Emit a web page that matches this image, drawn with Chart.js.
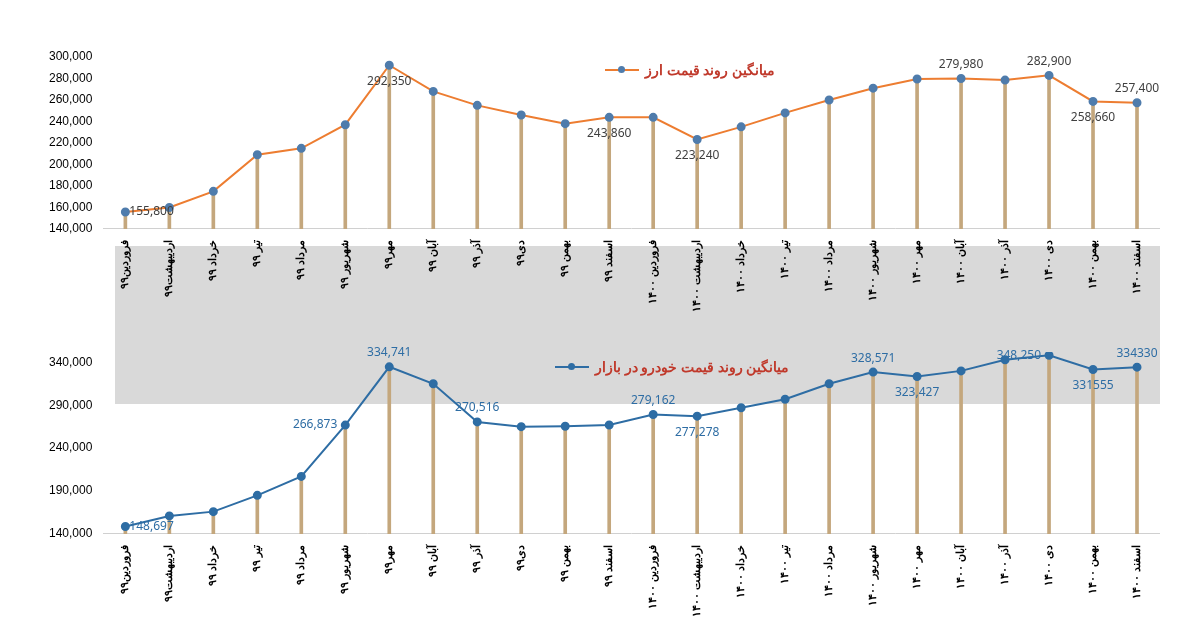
<!DOCTYPE html>
<html><head><meta charset="utf-8">
<script src="https://cdn.jsdelivr.net/npm/chart.js@4.4.0/dist/chart.umd.min.js"></script>
<style>
body{margin:0;background:#fff;font-family:"Noto Sans",sans-serif}
#band{position:absolute;left:115px;top:246px;width:1045px;height:158px;background:#d9d9d9}
.wrap{position:absolute;left:0;width:1197px}
.leg{position:absolute;direction:rtl;font-weight:bold;font-size:14px;color:#c0392b;display:flex;align-items:center;gap:6px}
.leg i{display:inline-block;width:34px;height:2px;position:relative}
.leg i b{position:absolute;left:13px;top:-3px;width:7px;height:7px;border-radius:50%}
</style></head>
<body>
<div id="band"></div>
<div class="wrap" style="top:0;height:320px"><canvas id="top"></canvas></div>
<div class="wrap" style="top:330px;height:304px"><canvas id="bot"></canvas></div>
<div class="leg" style="left:605px;top:60px">میانگین روند قیمت ارز<i style="background:#ed7d31"><b style="background:#4f7cac"></b></i></div>
<div class="leg" style="left:555px;top:357px">میانگین روند قیمت خودرو در بازار<i style="background:#2e6da4"><b style="background:#2e6da4"></b></i></div>
<script>
const months = ['فروردین۹۹','اردیبهشت۹۹','خرداد ۹۹','تیر ۹۹','مرداد ۹۹','شهریور ۹۹','مهر۹۹','آبان ۹۹','آذر ۹۹','دی۹۹','بهمن ۹۹','اسفند ۹۹',
 'فروردین ۱۴۰۰','اردیبهشت ۱۴۰۰','خرداد ۱۴۰۰','تیر ۱۴۰۰','مرداد ۱۴۰۰','شهریور ۱۴۰۰','مهر ۱۴۰۰','آبان ۱۴۰۰','آذر ۱۴۰۰','دی ۱۴۰۰','بهمن ۱۴۰۰','اسفند ۱۴۰۰'];
const arz = [155800,160000,175000,209000,215000,237000,292350,268000,255000,246000,238000,243860,243860,223240,235000,248000,260000,271000,279500,279980,278500,282900,258660,257400];
const khodro = [148697,161000,166000,185000,207000,266873,334741,315000,270516,265000,265500,267000,279162,277278,287000,297000,315000,328571,323427,330000,343000,348250,331555,334330];
const arzTicks = [140000,160000,180000,200000,220000,240000,260000,280000,300000];
const khodroTicks = [140000,190000,240000,290000,340000];
// which points get a value label, and above/below
const arzLabels = {0:'r',6:'b',11:'b',13:'b',19:'a',21:'a',22:'b',23:'a'};
const khodroLabels = {0:'r',5:'l',6:'a',8:'a',12:'a',13:'b',17:'a',18:'b',21:'l',22:'b',23:'a'};
const arzText = {0:'155,800',6:'292,350',11:'243,860',13:'223,240',19:'279,980',21:'282,900',22:'258,660',23:'257,400'};
const khodroText = {0:'148,697',5:'266,873',6:'334,741',8:'270,516',12:'279,162',13:'277,278',17:'328,571',18:'323,427',21:'348,250',22:'331555',23:'334330'};

function valueLabels(map, text, color){
  return {id:'vl', afterDatasetsDraw(c){
    const m = c.getDatasetMeta(1), ctx = c.ctx;
    ctx.save(); ctx.font = '12px "Noto Sans"'; ctx.fillStyle = color; ctx.textBaseline='middle';
    for (const k in map){
      const p = m.data[k]; let x=p.x, y=p.y;
      ctx.textAlign='center';
      if(map[k]=='a') y-=14; else if(map[k]=='b') y+=16;
      else if(map[k]=='r'){ctx.textAlign='left'; x+=4;}
      else {ctx.textAlign='right'; x-=8;}
      ctx.fillText(text[k], x, y);
    }
    ctx.restore();
  }};
}

function make(id, data, color, pcolor, ticks, max, pad, map, text, lcolor){
  new Chart(document.getElementById(id), {
    data:{labels:months, datasets:[
      {type:'bar', data:data, backgroundColor:'#c4a77d', barThickness:3, order:2},
      {type:'line', data:data, borderColor:color, borderWidth:2, pointBackgroundColor:pcolor, pointBorderColor:pcolor, pointRadius:3.5, tension:0, order:1}
    ]},
    options:{responsive:true, maintainAspectRatio:false, animation:false,
      layout:{padding:{left:46,right:38,top:pad[0],bottom:pad[1]}},
      plugins:{legend:{display:false}, tooltip:{enabled:false}},
      scales:{
        x:{grid:{display:false}, border:{color:'#d0d0d0'},
           ticks:{color:'#000', font:{size:11, weight:'bold'}, maxRotation:90, minRotation:90}},
        y:{min:ticks[0], max:max, grid:{display:false}, border:{display:false},
           afterBuildTicks:s=>{s.ticks=ticks.map(v=>({value:v}));},
           ticks:{color:'#000', font:{size:12}, callback:v=>v.toLocaleString('en-US')}}
      }},
    plugins:[valueLabels(map, text, lcolor)]
  });
}
make('top', arz, '#ed7d31', '#4f7cac', arzTicks, 300000, [57,5], arzLabels, arzText, '#404040');
make('bot', khodro, '#2e6da4', '#2e6da4', khodroTicks, 352000, [22,14], khodroLabels, khodroText, '#2e6da4');
</script>
</body></html>
